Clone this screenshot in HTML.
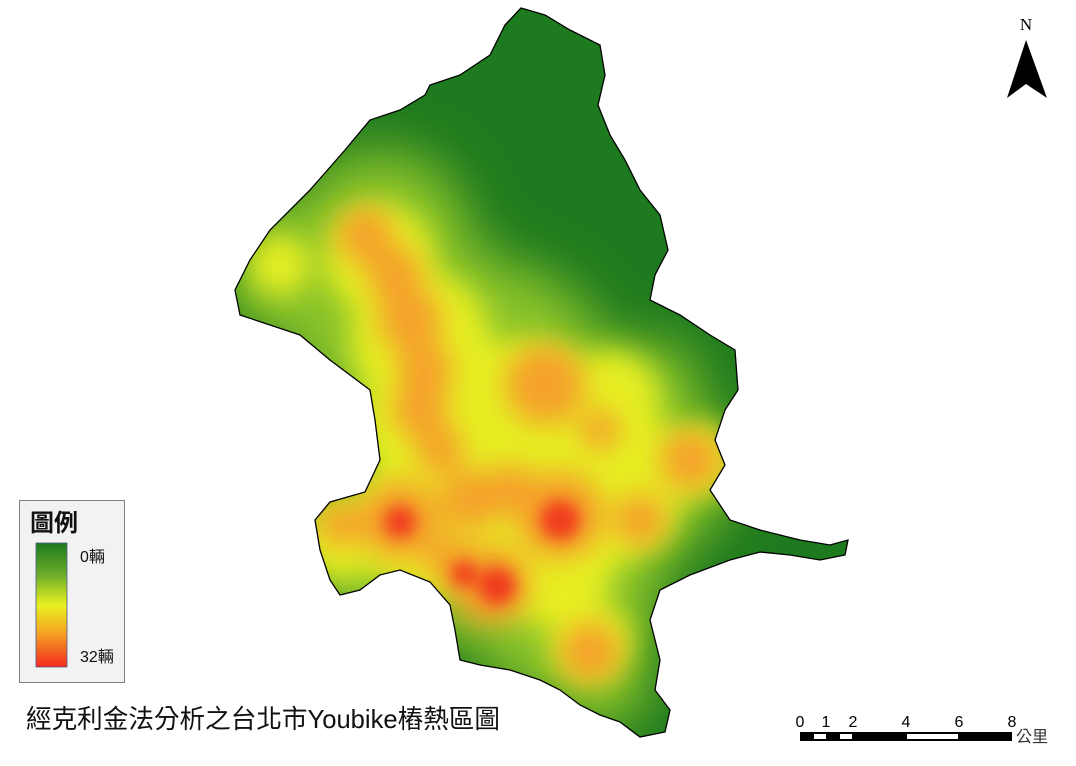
<!DOCTYPE html>
<html><head><meta charset="utf-8"><style>
body{margin:0;background:#fff;width:1076px;height:761px;overflow:hidden;font-family:"Liberation Sans","Noto Sans CJK TC",sans-serif;}
</style></head><body>
<svg width="1076" height="761" viewBox="0 0 1076 761">
<defs>
<filter id="b1" x="-50%" y="-50%" width="200%" height="200%"><feGaussianBlur stdDeviation="26"/></filter>
<filter id="b2" x="-50%" y="-50%" width="200%" height="200%"><feGaussianBlur stdDeviation="14"/></filter>
<filter id="b3" x="-50%" y="-50%" width="200%" height="200%"><feGaussianBlur stdDeviation="8"/></filter>
<clipPath id="city"><polygon id="cp"/></clipPath>
<linearGradient id="lg" x1="0" y1="0" x2="0" y2="1">
<stop offset="0" stop-color="#1e7a1e"/><stop offset="0.25" stop-color="#6aab2a"/><stop offset="0.5" stop-color="#e8f020"/><stop offset="0.72" stop-color="#f5a623"/><stop offset="1" stop-color="#f42a1e"/>
</linearGradient>
</defs>
<g clip-path="url(#city)">
<rect x="200" y="0" width="700" height="761" fill="#1e7a1e"/>
<g id="lay"></g>
</g>
<polygon id="outline" fill="none" stroke="#000" stroke-width="1.3"/>
<g>
<text x="1026" y="30" text-anchor="middle" font-family="Liberation Serif,serif" font-size="17" fill="#000">N</text>
<polygon points="1026,40 1047,98 1026,84 1007,98" fill="#000"/>
</g>
<g>
<rect x="19.5" y="500.5" width="105" height="182" fill="#f2f2f2" stroke="#808080"/>
<text x="30" y="531" font-size="24" font-weight="bold" fill="#111">圖例</text>
<rect x="36" y="543" width="31" height="124" fill="url(#lg)" stroke="#4a5a8a" stroke-width="0.8"/>
<text x="80" y="562" font-size="16" fill="#111">0輛</text>
<text x="80" y="662" font-size="16" fill="#111">32輛</text>
</g>
<text x="26" y="728" font-size="26" fill="#111" textLength="474" lengthAdjust="spacingAndGlyphs">經克利金法分析之台北市Youbike樁熱區圖</text>
<g font-size="16" fill="#000" text-anchor="middle">
<rect x="800" y="732" width="212" height="9" fill="#000"/>
<rect x="814" y="734" width="12" height="5" fill="#fff"/>
<rect x="840" y="734" width="12" height="5" fill="#fff"/>
<rect x="907" y="734" width="51" height="5" fill="#fff"/>
<text x="800" y="727">0</text><text x="826" y="727">1</text><text x="853" y="727">2</text><text x="906" y="727">4</text><text x="959" y="727">6</text><text x="1012" y="727">8</text>
<text x="1032" y="742" text-anchor="middle" font-size="16" fill="#333">公里</text>
</g>
</svg>
<script>
const boundary=[[521,8],[545,15],[570,30],[600,45],[605,75],[598,105],[610,135],[625,160],[640,190],[660,215],[668,250],[655,275],[650,300],[680,315],[710,335],[735,350],[738,390],[725,410],[715,440],[725,465],[710,490],[730,520],[760,530],[800,540],[830,545],[848,540],[845,555],[820,560],[790,555],[760,552],[730,560],[690,575],[660,590],[650,620],[660,660],[655,690],[670,710],[665,732],[640,737],[620,722],[600,715],[580,705],[560,690],[540,680],[510,670],[480,665],[460,660],[455,630],[450,605],[430,582],[400,570],[380,575],[360,590],[340,595],[330,580],[320,550],[315,520],[330,502],[365,492],[380,460],[375,420],[370,390],[330,360],[300,335],[270,325],[240,315],[235,290],[250,260],[270,230],[310,190],[345,150],[370,120],[400,110],[425,95],[430,85],[460,75],[490,55],[505,25]];
const lightGreen=[[290,270,70],[380,240,90],[400,320,110],[480,400,140],[420,520,120],[600,470,120],[560,600,100],[680,470,60],[360,560,60],[600,680,50],[650,390,50]];
const yellow=[[280,265,30],[380,260,55],[420,340,70],[430,420,70],[520,440,100],[430,520,75],[600,480,85],[550,560,65],[340,540,40],[700,460,35],[590,640,40],[610,400,50]];
const orange=[[365,235,28],[395,275,28],[410,320,32],[425,370,28],[420,410,28],[545,385,40],[400,520,40],[470,500,30],[560,515,44],[490,585,40],[690,460,30],[590,652,30],[440,450,24],[640,520,26],[450,560,24],[340,525,22],[510,490,26],[600,430,20]];
const red=[[560,520,20],[400,522,16],[497,586,19],[464,574,13]];
const pts=boundary.map(p=>p.join(',')).join(' ');
document.getElementById('cp').setAttribute('points',pts);
document.getElementById('outline').setAttribute('points',pts);
const lay=document.getElementById('lay');
const ns='http://www.w3.org/2000/svg';
function layer(arr,color,f){
 const g=document.createElementNS(ns,'g');g.setAttribute('filter','url(#'+f+')');
 arr.forEach(d=>{const c=document.createElementNS(ns,'circle');
  
  
  c.setAttribute('cx',d[0]);c.setAttribute('cy',d[1]);c.setAttribute('r',d[2]);c.setAttribute('fill',color);g.appendChild(c);});
 lay.appendChild(g);
}
layer(lightGreen,'#8cc52a','b1');
layer(yellow,'#e6ee22','b2');
layer(orange,'#f5a12a','b2');
layer(red,'#f03a1e','b3');
</script>
</body></html>
